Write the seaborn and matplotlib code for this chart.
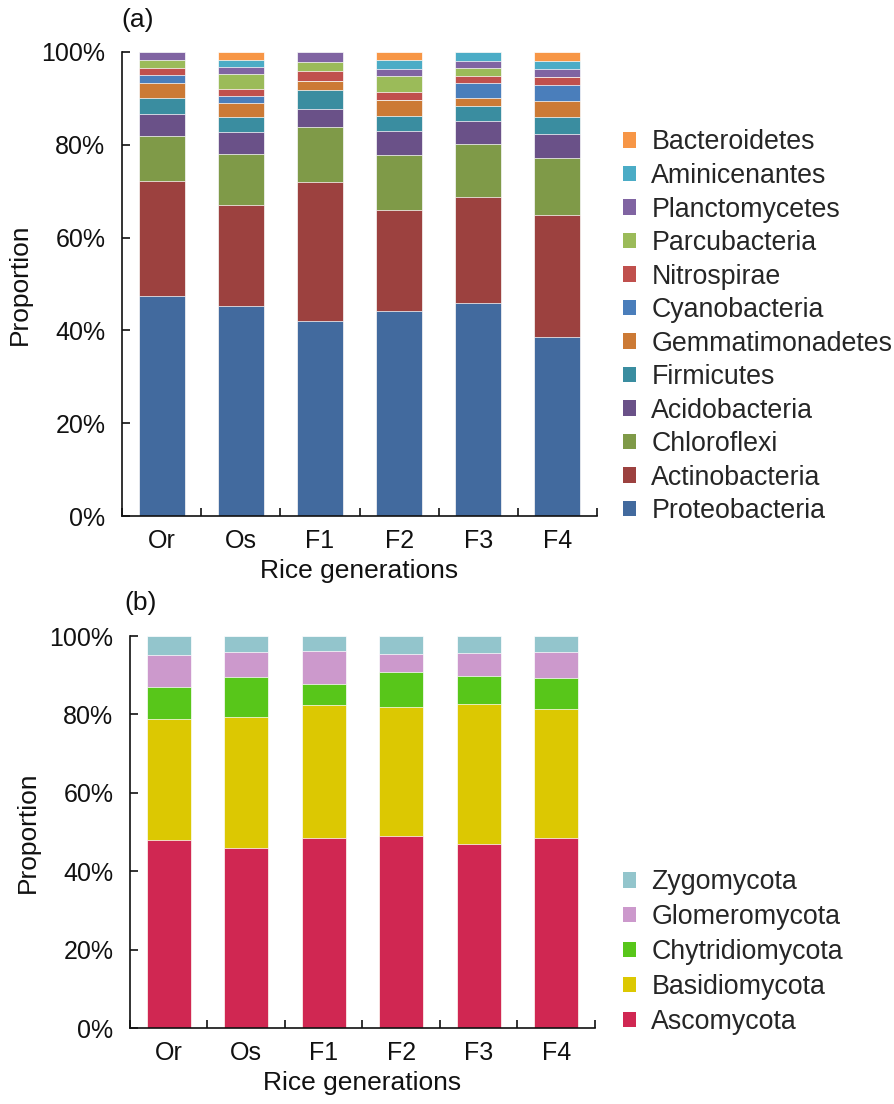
import matplotlib
matplotlib.use("Agg")
import matplotlib.pyplot as plt
from matplotlib.patches import Patch
from matplotlib.ticker import FuncFormatter, FixedLocator
import numpy as np
import seaborn as sns

sns.set_theme(style="white")
plt.rcParams["font.family"] = ["Liberation Sans", "DejaVu Sans"]

generations = ["Or", "Os", "F1", "F2", "F3", "F4"]

# Bacterial phyla, bottom to top of each stack (%)
proteobacteria   = [47.5, 45.3, 42.0, 44.1, 45.9, 38.5]
actinobacteria   = [24.6, 21.8, 30.0, 21.9, 22.9, 26.3]
chloroflexi      = [9.8, 11.0, 11.9, 11.8, 11.4, 12.3]
acidobacteria    = [4.8, 4.6, 3.9, 5.1, 4.9, 5.2]
firmicutes       = [3.3, 3.2, 4.0, 3.4, 3.3, 3.6]
gemmatimonadetes = [3.3, 3.1, 2.0, 3.4, 1.6, 3.5]
cyanobacteria    = [1.7, 1.5, 0.0, 0.0, 3.3, 3.5]
nitrospirae      = [1.6, 1.5, 2.0, 1.7, 1.6, 1.7]
parcubacteria    = [1.7, 3.2, 2.0, 3.4, 1.7, 0.0]
planctomycetes   = [1.6, 1.6, 2.1, 1.6, 1.5, 1.7]
aminicenantes    = [0.0, 1.5, 0.0, 1.8, 1.8, 1.8]
bacteroidetes    = [0.0, 1.6, 0.0, 1.7, 0.0, 1.8]

# Fungal phyla, bottom to top (%)
ascomycota      = [48.0, 45.9, 48.4, 49.1, 46.9, 48.4]
basidiomycota   = [30.9, 33.4, 33.9, 32.9, 35.8, 33.1]
chytridiomycota = [8.1, 10.3, 5.5, 8.9, 7.2, 7.9]
glomeromycota   = [8.1, 6.4, 8.3, 4.5, 5.7, 6.6]
zygomycota      = [4.9, 4.0, 3.9, 4.6, 4.4, 4.0]

bacteria = [
    ("Proteobacteria", proteobacteria, "#426A9E"),
    ("Actinobacteria", actinobacteria, "#9C413F"),
    ("Chloroflexi", chloroflexi, "#7F9A48"),
    ("Acidobacteria", acidobacteria, "#6A5188"),
    ("Firmicutes", firmicutes, "#3A8DA0"),
    ("Gemmatimonadetes", gemmatimonadetes, "#CC7A35"),
    ("Cyanobacteria", cyanobacteria, "#4A7EBB"),
    ("Nitrospirae", nitrospirae, "#C0504D"),
    ("Parcubacteria", parcubacteria, "#9BBB59"),
    ("Planctomycetes", planctomycetes, "#8064A2"),
    ("Aminicenantes", aminicenantes, "#4BACC6"),
    ("Bacteroidetes", bacteroidetes, "#F79646"),
]
fungi = [
    ("Ascomycota", ascomycota, "#D02752"),
    ("Basidiomycota", basidiomycota, "#DCC802"),
    ("Chytridiomycota", chytridiomycota, "#58C61A"),
    ("Glomeromycota", glomeromycota, "#CC99CC"),
    ("Zygomycota", zygomycota, "#93C5CC"),
]

TICK_FS = 18
LABEL_FS = 19
LEG_FS = 19.3

fig = plt.figure(figsize=(8.94, 11.04), dpi=100)
ax_a = fig.add_axes([0.1365, 0.5326, 0.5313, 0.4203])
ax_b = fig.add_axes([0.1454, 0.0688, 0.5201, 0.3551])


def stacked(ax, layers, width):
    cums = np.cumsum([np.array(v) for _, v, _ in layers], axis=0)
    # draw tallest cumulative first so lower segments paint over it
    for (name, _, col), cum in reversed(list(zip(layers, cums))):
        sns.barplot(x=generations, y=cum, color=col, width=width,
                    edgecolor="white", linewidth=0.5, saturation=1, ax=ax)
    ax.set_xlim(-0.5, 5.5)
    ax.set_ylim(0, 100)
    ax.yaxis.set_major_locator(FixedLocator([0, 20, 40, 60, 80, 100]))
    ax.yaxis.set_major_formatter(FuncFormatter(lambda v, p: f"{int(v)}%"))
    ax.xaxis.set_minor_locator(FixedLocator(np.arange(-0.5, 6, 1.0)))
    ax.tick_params(axis="x", which="major", length=0, pad=9, labelsize=TICK_FS, colors="#111111")
    ax.tick_params(axis="x", which="minor", direction="in", length=6, width=1.2,
                   color="#111111", bottom=True)
    ax.tick_params(axis="y", which="major", direction="in", length=6, width=1.2,
                   pad=12, labelsize=TICK_FS, colors="#111111", left=True)
    for s in ("top", "right"):
        ax.spines[s].set_visible(False)
    for s in ("left", "bottom"):
        ax.spines[s].set_color("#111111")
        ax.spines[s].set_linewidth(1.2)
    ax.set_xlabel("Rice generations", fontsize=LABEL_FS, labelpad=5, color="#111111")
    ax.set_ylabel("Proportion", fontsize=LABEL_FS, labelpad=7, color="#111111")
    ax.grid(False)
    handles = [Patch(facecolor=c, edgecolor="none", label=n) for n, _, c in reversed(layers)]
    return handles


h_a = stacked(ax_a, bacteria, 0.58)
h_b = stacked(ax_b, fungi, 0.57)

fig.legend(handles=h_a, loc="upper left", bbox_to_anchor=(0.6969, 0.8827),
           frameon=False, fontsize=LEG_FS, handlelength=0.5, handleheight=0.5,
           handletextpad=0.56, labelspacing=0.28, borderpad=0, borderaxespad=0)
fig.legend(handles=h_b, loc="upper left", bbox_to_anchor=(0.6969, 0.2125),
           frameon=False, fontsize=LEG_FS, handlelength=0.5, handleheight=0.5,
           handletextpad=0.56, labelspacing=0.33, borderpad=0, borderaxespad=0)

fig.text(121 / 894, 1 - 20 / 1104, "(a)", fontsize=LABEL_FS, ha="left", va="center", color="#111111")
fig.text(124 / 894, 1 - 603 / 1104, "(b)", fontsize=LABEL_FS, ha="left", va="center", color="#111111")

fig.savefig("out.png", dpi=100, facecolor="white")
